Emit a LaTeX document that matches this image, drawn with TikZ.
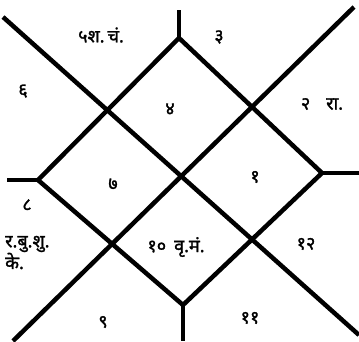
\documentclass[tikz,border=0pt]{standalone}
\usepackage{fontspec}
\newfontfamily\deva[Script=Devanagari,FakeBold=1.5]{Noto Sans}
\begin{document}
\begin{tikzpicture}[x=1pt,y=-1pt,
  chartline/.style={line width=4.5pt,line join=round},
  lbl/.style={font=\deva\fontsize{18}{20}\selectfont,inner sep=0pt}]
\useasboundingbox (0,0) rectangle (359,341);
\coordinate (T) at (179,38);
\coordinate (R) at (322,173);
\coordinate (B) at (183,305);
\coordinate (L) at (38,180);
\coordinate (TT) at (179,10);
\coordinate (RR) at (359,173);
\coordinate (BB) at (183,341);
\coordinate (LL) at (7,180);
\coordinate (TL) at (3,17);
\coordinate (TR) at (354,7);
\coordinate (BL) at (13,341);
\coordinate (BR) at (359,335);
\draw[chartline] (T) -- (R) -- (B) -- (L) -- cycle;
\draw[chartline] (TL) -- (BR);
\draw[chartline] (TR) -- (BL);
\draw[chartline] (T) -- (TT);
\draw[chartline] (R) -- (RR);
\draw[chartline] (B) -- (BB);
\draw[chartline] (L) -- (LL);
\node[lbl] (h5) at (101,35) {५श.\,चं.};
\node[lbl] (h3) at (219,37) {३};
\node[lbl] (h6) at (23,91) {६};
\node[lbl] (h4) at (170,109) {४};
\node[lbl] (h2) at (322,104) {२\hspace{16pt}रा.};
\node[lbl] (h7) at (113,184) {७};
\node[lbl] (h1) at (255,177) {१};
\node[lbl] (h8) at (27,205) {८};
\node[lbl,anchor=west] (h8b) at (5,244) {र.बु.शु.};
\node[lbl,anchor=west] (h8c) at (5,261) {के.};
\node[lbl] (h10) at (176,247) {१०\hspace{8pt}वृ.मं.};
\node[lbl] (h12) at (306,244) {१२};
\node[lbl] (h9) at (103,322) {९};
\node[lbl] (h11) at (250,318) {११};
\end{tikzpicture}
\end{document}
